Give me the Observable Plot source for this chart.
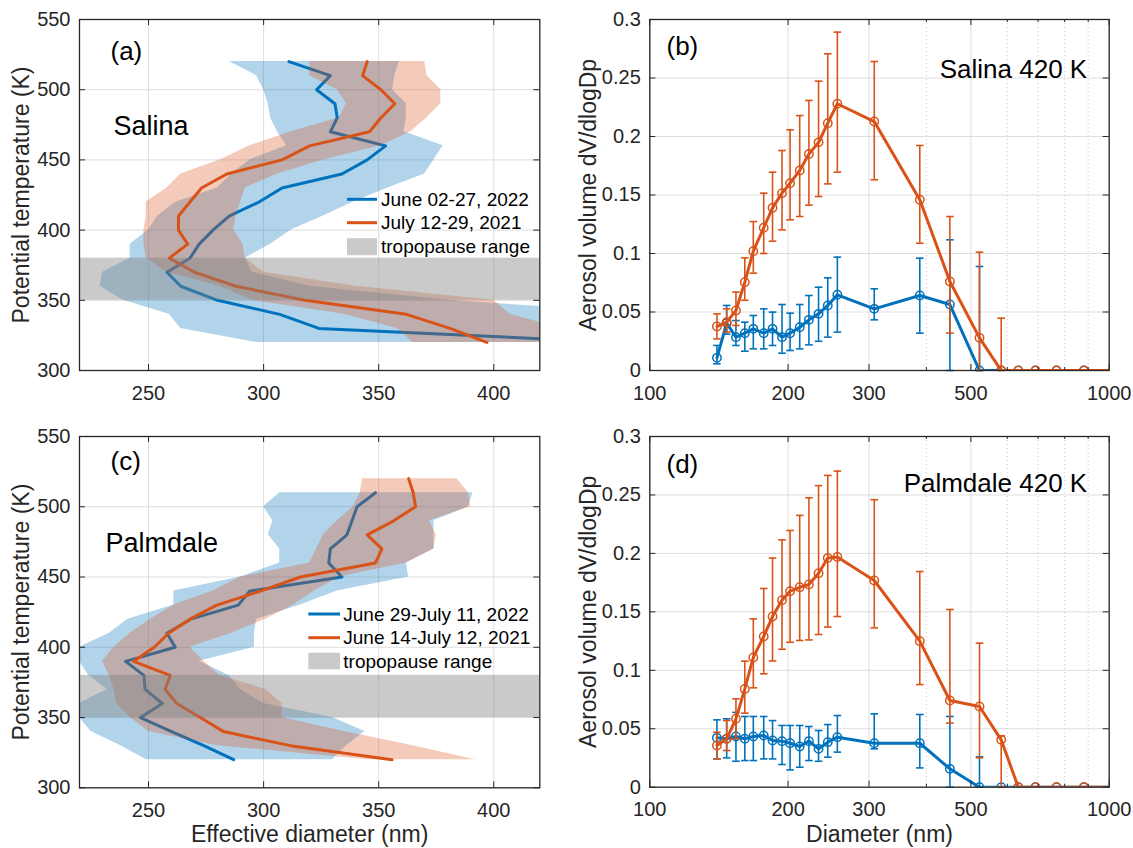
<!DOCTYPE html>
<html><head><meta charset="utf-8">
<script src="https://cdn.jsdelivr.net/npm/d3@7"></script>
<script src="https://cdn.jsdelivr.net/npm/@observablehq/plot@0.6"></script>
<style>
body{margin:0;background:#fff;}
#fig{position:relative;width:1133px;height:848px;overflow:hidden;}
#fig svg{position:absolute;overflow:visible;}
</style></head><body><div id="fig"></div>
<script>
// ---------- data ----------
const salinaTheta = [320,330,340,350,360,370,380,390,400,410,420,430,440,450,460,470,480,490,500,510,520];
const salina2022 = [454,324,307,280,264,258,268,272,278,285,298,308,334,345,353,329,332,331,323,329,311];
const salina2022Low = [297,264,259,239,229,230,242,242,250,254,262,280,286,294,310,306,303,302,300,297,285];
const salina2022High = [480,480,470,380,320,295,292,303,312,326,339,354,370,374,378,361,362,362,356,357,359];
const salina2021 = [397,381,362,318,288,270,259,267,263,263,268,273,284,308,320,346,351,357,351,343,345];
const salina2021Low = [365,358,335,295,281,258,249,248,248,249,249,258,264,281,294,312,333,336,332,320,320];
const salina2021High = [430,430,407,400,340,300,292,291,287,288,290,292,306,326,351,364,371,377,377,371,370];

const palmdaleTheta2022 = [320,330,340,350,360,370,380,390,400,410,420,430,440,450,460,470,480,490,500,510];
const palmdale2022 = [287,274,260,246.5,256,248.5,248,240,261.6,258,268.3,289,294,334,328.3,329,336.2,338.4,340.6,348.6];
const palmdale2022Low = [249,238,225,220,220,232,224,220,220,233,241,261,261,290,307,307,302,304,300,307];
const palmdale2022High = [330,336,344,330,300,290,285,272,296,296,297,316,332,363,362,374,374,374,389,391];
const palmdaleTheta2021 = [320,330,340,350,360,370,380,390,400,410,420,430,440,450,460,470,480,490,500,510,520];
const palmdale2021 = [355.8,311.6,282.6,272.5,262.3,257.2,259.4,243.5,252.5,258.7,268,279.7,298.6,316,348.6,351.4,345,356.5,366,365,363];
const palmdale2021Low = [345,280,250,242,236,235,233,230,235,242,251,261,278,290,320,323,326,332,339,342,343];
const palmdale2021High = [392,365,335,308,308,301,281,274,268,286,301,313,322,333,362,374,375,372,390,389,384];

const tropopauseRange = [350, 380];

const diameters = [140,147,154,161,168,177,185,194,202,212,222,233,244,256,308,387,450,522,582,634,691,768,881,1050];
const salinaV2021 = [0.0376,0.0413,0.0513,0.0755,0.102,0.122,0.139,0.1516,0.160,0.171,0.185,0.195,0.2114,0.228,0.2128,0.1459,0.0761,0.0279,0,0,0,0,0,0];
const salinaV2021Hi = [0.0484,0.0527,0.067,0.0963,0.1273,0.1516,0.1695,0.188,0.2057,0.2179,0.2308,0.2473,0.2707,0.2892,0.2641,0.1923,0.1316,0.1011,0.0447,null,null,null,null,null];
const salinaV2021Lo = [0.027,0.0328,0.0385,0.06,0.0832,0.1,0.1105,0.1202,0.1288,0.1316,0.1413,0.1487,0.1595,0.1695,0.163,0.1088,0.0319,0,0,null,null,null,null,null];
const salinaV2022 = [0.0108,0.0405,0.0285,0.0319,0.0356,0.0319,0.0356,0.0285,0.0319,0.037,0.0433,0.0484,0.0556,0.0647,0.0527,0.0641,0.0564,0,0,0,0,0,0,0];
const salinaV2022Hi = [0.0214,0.0556,0.0427,0.0413,0.047,0.0527,0.0499,0.0564,0.049,0.0564,0.0641,0.0712,0.0792,0.0969,0.0698,0.096,0.1117,0.0889,null,null,null,null,null,null];
const salinaV2022Lo = [0.0057,0.031,0.0214,0.0165,0.0185,0.0185,0.0214,0.0148,0.0171,0.0185,0.0219,0.025,0.0285,0.0328,0.0433,0.0319,0,0,null,null,null,null,null,null];

const palmdaleV2021 = [0.0357,0.0414,0.0585,0.0841,0.111,0.129,0.146,0.160,0.1677,0.171,0.1734,0.183,0.196,0.197,0.1768,0.1249,0.0742,0.069,0.0405,0,0,0,0,0];
const palmdaleV2021Hi = [0.047,0.057,0.0756,0.1078,0.144,0.17,0.196,0.2116,0.2196,0.2325,0.2476,0.258,0.2667,0.2704,0.2459,0.1845,0.152,0.1232,0.044,null,null,null,null,null];
const palmdaleV2021Lo = [0.0242,0.0314,0.0414,0.0633,0.085,0.097,0.108,0.118,0.124,0.1255,0.126,0.1306,0.137,0.146,0.1363,0.0878,0.0548,0.0251,0,null,null,null,null,null];
const palmdaleV2022 = [0.0422,0.0414,0.0434,0.0414,0.0434,0.0442,0.040,0.0394,0.0376,0.0348,0.0394,0.0328,0.0385,0.0428,0.0376,0.0376,0.0157,0,0,0,0,0,0,0];
const palmdaleV2022Hi = [0.0576,0.0585,0.064,0.0605,0.0605,0.0605,0.057,0.0528,0.0528,0.0528,0.0519,0.0485,0.0536,0.0613,0.0628,0.0622,0.0605,0.026,null,null,null,null,null,null];
const palmdaleV2022Lo = [0.0242,0.0251,0.0222,0.0228,0.0228,0.0242,0.0242,0.0194,0.0148,0.0171,0.0228,0.0222,0.0257,0.03,0.0328,0.0165,0,0,null,null,null,null,null,null];

const profileXTicks = [250,300,350,400];
const profileYTicks = [300,350,400,450,500,550];
const sizeXTicks = [100,200,300,500,1000];
const sizeXMinor = [400,600,700,800,900];
const sizeYTicks = [0,0.05,0.1,0.15,0.2,0.25,0.3];

// ---------- style ----------
const FONT = '"Liberation Sans", Arial, Helvetica, sans-serif';
const INK = "#262626";
const BLUE = "#0072BD", ORANGE = "#D95319", GREY = "#808080";

const capSymbol = {draw(ctx, size) { const w = Math.sqrt(size / Math.PI); ctx.moveTo(-w, 0); ctx.lineTo(w, 0); }};

function rowsProfile(theta, v, lo, hi) {
  return theta.map((t, i) => ({t, v: v[i], lo: lo[i], hi: hi[i]}));
}
function rowsSize(d, v, lo, hi) {
  return d.map((x, i) => ({d: x, v: v[i], lo: lo[i], hi: hi[i]}));
}

function axisMarks(pw, ph, xMajor, xMinor, yTicks) {
  const L = 6, Lm = 3;
  const m = [
    Plot.tickX(xMajor, {x: d => d, insetTop: ph - L, stroke: INK}),
    Plot.tickX(xMajor, {x: d => d, insetBottom: ph - L, stroke: INK}),
    Plot.tickY(yTicks, {y: d => d, insetRight: pw - L, stroke: INK}),
    Plot.tickY(yTicks, {y: d => d, insetLeft: pw - L, stroke: INK})
  ];
  if (xMinor) {
    m.push(Plot.tickX(xMinor, {x: d => d, insetTop: ph - Lm, stroke: INK}));
    m.push(Plot.tickX(xMinor, {x: d => d, insetBottom: ph - Lm, stroke: INK}));
  }
  m.push(Plot.frame({stroke: INK, strokeWidth: 1.3}));
  m.push(Plot.text(xMajor, {x: d => d, text: d => String(d), frameAnchor: "bottom", textAnchor: "middle", lineAnchor: "top", dy: 15, fontSize: 20, fill: INK}));
  m.push(Plot.text(yTicks, {y: d => d, text: d => String(d), frameAnchor: "left", textAnchor: "end", lineAnchor: "middle", dx: -9, fontSize: 20, fill: INK}));
  return m;
}

function gridMarks(xMajor, xMinor, yTicks) {
  const m = [
    Plot.gridX(xMajor, {stroke: "#dedede", strokeOpacity: 1, strokeWidth: 1}),
    Plot.gridY(yTicks, {stroke: "#dedede", strokeOpacity: 1, strokeWidth: 1})
  ];
  if (xMinor) m.push(Plot.gridX(xMinor, {stroke: "#cfcfcf", strokeOpacity: 1, strokeDasharray: "1.2,2.8"}));
  return m;
}

function legendMark(entries, lay) {
  return function () {
    const g = d3.create("svg:g").attr("font-family", FONT).attr("font-size", 19).attr("text-anchor", "start");
    entries.forEach((e, i) => {
      const y = lay.ys[i];
      if (e.kind === "line") {
        g.append("line").attr("x1", lay.x0).attr("x2", lay.x0 + lay.w).attr("y1", y).attr("y2", y)
          .attr("stroke", e.color).attr("stroke-width", 3);
      } else {
        g.append("rect").attr("x", lay.x0).attr("y", y - lay.ph / 2).attr("width", lay.w).attr("height", lay.ph)
          .attr("fill", e.color).attr("fill-opacity", e.opacity);
      }
      g.append("text").attr("x", lay.tx).attr("y", y).attr("dy", "0.35em").attr("text-anchor", "start")
        .attr("fill", "#000").text(e.label);
    });
    return g.node();
  };
}

function place(svg, left, top) {
  svg.style.left = left + "px";
  svg.style.top = top + "px";
  document.getElementById("fig").appendChild(svg);
}

function profilePanel(cfg) {
  const mL = 79, mR = cfg.width - 539.3;
  const pw = cfg.width - mL - mR, ph = cfg.height - cfg.mT - cfg.mB;
  const blue = cfg.blueRows, orange = cfg.orangeRows;
  const marks = [
    ...gridMarks(profileXTicks, null, profileYTicks),
    Plot.areaX(blue, {y: "t", x1: "lo", x2: "hi", fill: BLUE, fillOpacity: 0.3, clip: true}),
    Plot.line(blue, {x: "v", y: "t", stroke: BLUE, strokeWidth: 3, clip: true}),
    Plot.areaX(orange, {y: "t", x1: "lo", x2: "hi", fill: ORANGE, fillOpacity: 0.3, clip: true}),
    Plot.line(orange, {x: "v", y: "t", stroke: ORANGE, strokeWidth: 3, clip: true}),
    Plot.rect([tropopauseRange], {y1: d => d[0], y2: d => d[1], fill: GREY, fillOpacity: 0.42}),
    ...axisMarks(pw, ph, profileXTicks, null, profileYTicks),
    Plot.text([cfg.tag], {text: d => d, frameAnchor: "top-left", textAnchor: "start", lineAnchor: "middle", dx: 31, dy: cfg.tagDy, fontSize: 26, fill: "#000"}),
    Plot.text([cfg.site], {text: d => d, frameAnchor: "top-left", textAnchor: "start", lineAnchor: "middle", dx: cfg.siteDx, dy: 106.4, fontSize: 27, fill: "#000"}),
    Plot.text(["Potential temperature (K)"], {text: d => d, frameAnchor: "left", textAnchor: "middle", lineAnchor: "middle", rotate: -90, dx: -58, fontSize: 23, fill: INK}),
    legendMark(cfg.legend, cfg.legendLayout)
  ];
  if (cfg.xLabel) marks.push(Plot.text([cfg.xLabel], {text: d => d, frameAnchor: "bottom", textAnchor: "middle", lineAnchor: "middle", dy: 47, fontSize: 23, fill: INK}));
  const svg = Plot.plot({
    width: cfg.width, height: cfg.height,
    marginLeft: mL, marginRight: mR, marginTop: cfg.mT, marginBottom: cfg.mB,
    x: {domain: [220, 420], axis: null},
    y: {domain: [300, 550], axis: null},
    style: {fontFamily: FONT, fontSize: "20px", color: INK, background: "transparent", overflow: "visible"},
    marks
  });
  place(svg, cfg.left, cfg.top);
}

function sizePanel(cfg) {
  const mL = 83.3, mR = cfg.width - 542.7;
  const pw = cfg.width - mL - mR, ph = cfg.height - cfg.mT - cfg.mB;
  const marks = [...gridMarks(sizeXTicks, sizeXMinor, sizeYTicks)];
  for (const [rows, color] of [[cfg.blueRows, BLUE], [cfg.orangeRows, ORANGE]]) {
    const bars = rows.filter(r => r.hi != null);
    marks.push(
      Plot.ruleX(bars, {x: "d", y1: "lo", y2: "hi", stroke: color, strokeWidth: 1.6}),
      Plot.dot(bars, {x: "d", y: "hi", symbol: capSymbol, r: 3.8, stroke: color, strokeWidth: 1.6, fill: "none"}),
      Plot.dot(bars, {x: "d", y: "lo", symbol: capSymbol, r: 3.8, stroke: color, strokeWidth: 1.6, fill: "none"}),
      Plot.line(rows, {x: "d", y: "v", stroke: color, strokeWidth: 3, clip: true}),
      Plot.dot(rows, {x: "d", y: "v", r: 4.2, stroke: color, strokeWidth: 1.5, fill: "none", clip: true})
    );
  }
  marks.push(
    ...axisMarks(pw, ph, sizeXTicks, sizeXMinor, sizeYTicks),
    Plot.text([cfg.tag], {text: d => d, frameAnchor: "top-left", textAnchor: "start", lineAnchor: "middle", dx: 16.7, dy: cfg.tagDy, fontSize: 26, fill: "#000"}),
    Plot.text([cfg.title], {text: d => d, frameAnchor: "top-right", textAnchor: "end", lineAnchor: "middle", dx: -22, dy: cfg.titleDy, fontSize: 26, fill: "#000"}),
    Plot.text(["Aerosol volume dV/dlogDp"], {text: d => d, frameAnchor: "left", textAnchor: "middle", lineAnchor: "middle", rotate: -90, dx: -61.3, fontSize: 23, fill: INK})
  );
  if (cfg.xLabel) marks.push(Plot.text([cfg.xLabel], {text: d => d, frameAnchor: "bottom", textAnchor: "middle", lineAnchor: "middle", dy: 47, fontSize: 23, fill: INK}));
  const svg = Plot.plot({
    width: cfg.width, height: cfg.height,
    marginLeft: mL, marginRight: mR, marginTop: cfg.mT, marginBottom: cfg.mB,
    x: {type: "log", domain: [100, 1000], axis: null},
    y: {domain: [0, 0.3], axis: null},
    style: {fontFamily: FONT, fontSize: "20px", color: INK, background: "transparent", overflow: "visible"},
    marks
  });
  place(svg, cfg.left, cfg.top);
}

// ---------- panels ----------
profilePanel({
  left: 0, top: 0, width: 566, height: 420, mT: 19, mB: 50,
  blueRows: rowsProfile(salinaTheta, salina2022, salina2022Low, salina2022High),
  orangeRows: rowsProfile(salinaTheta, salina2021, salina2021Low, salina2021High),
  tag: "(a)", tagDy: 31.7, site: "Salina", siteDx: 34,
  legend: [
    {kind: "line", color: BLUE, label: "June 02-27, 2022"},
    {kind: "line", color: ORANGE, label: "July 12-29, 2021"},
    {kind: "rect", color: GREY, opacity: 0.42, label: "tropopause range"}
  ],
  legendLayout: {x0: 347, w: 30, tx: 381, ys: [199.3, 222.7, 246.7], ph: 17}
});

sizePanel({
  left: 566, top: 0, width: 567, height: 420, mT: 19, mB: 50,
  blueRows: rowsSize(diameters, salinaV2022, salinaV2022Lo, salinaV2022Hi),
  orangeRows: rowsSize(diameters, salinaV2021, salinaV2021Lo, salinaV2021Hi),
  tag: "(b)", tagDy: 27, title: "Salina 420 K", titleDy: 50
});

profilePanel({
  left: 0, top: 420, width: 566, height: 428, mT: 16, mB: 60.7,
  blueRows: rowsProfile(palmdaleTheta2022, palmdale2022, palmdale2022Low, palmdale2022High),
  orangeRows: rowsProfile(palmdaleTheta2021, palmdale2021, palmdale2021Low, palmdale2021High),
  tag: "(c)", tagDy: 25, site: "Palmdale", siteDx: 26,
  legend: [
    {kind: "line", color: BLUE, label: "June 29-July 11, 2022"},
    {kind: "line", color: ORANGE, label: "June 14-July 12, 2021"},
    {kind: "rect", color: GREY, opacity: 0.42, label: "tropopause range"}
  ],
  legendLayout: {x0: 308.3, w: 31.7, tx: 343.3, ys: [194, 217.7, 241], ph: 16.6},
  xLabel: "Effective diameter (nm)"
});

sizePanel({
  left: 566, top: 420, width: 567, height: 428, mT: 16, mB: 61.3,
  blueRows: rowsSize(diameters, palmdaleV2022, palmdaleV2022Lo, palmdaleV2022Hi),
  orangeRows: rowsSize(diameters, palmdaleV2021, palmdaleV2021Lo, palmdaleV2021Hi),
  tag: "(d)", tagDy: 28, title: "Palmdale 420 K", titleDy: 47.4,
  xLabel: "Diameter (nm)"
});
</script></body></html>
